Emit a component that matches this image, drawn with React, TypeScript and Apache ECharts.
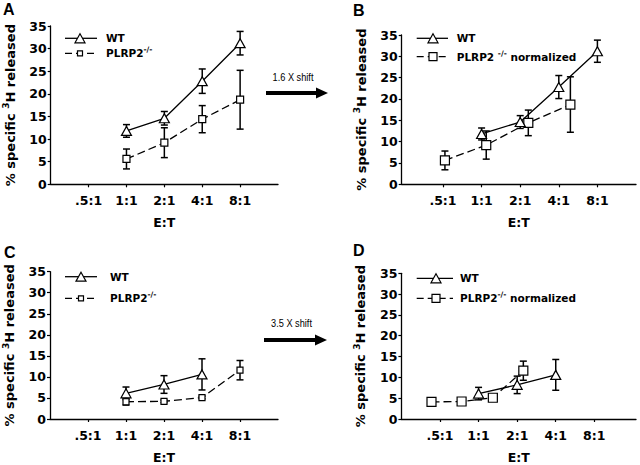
import React, { useEffect, useRef } from 'react';
import * as echarts from 'echarts';

// ---------- data ----------
const CATEGORIES = ['.5:1', '1:1', '2:1', '4:1', '8:1'];
const CAT_POS = [1, 2, 3, 4, 5];

// Panels A & B (same measurements, B has the PLRP2 curve shifted 1.6x)
const WT_POS_AB = [2, 3, 4, 5];
const WT_AB = [11.8, 14.6, 22.8, 31.2];
const WT_AB_ERR = [1.4, 1.5, 2.7, 2.6];
const KO_POS_A = [2, 3, 4, 5];
const KO_POS_B = [1.05, 2.12, 3.21, 4.3];
const KO_AB = [5.6, 9.2, 14.4, 18.7];
const KO_AB_ERR = [2.2, 3.3, 3.0, 6.5];

// Panels C & D (D has the PLRP2 curve shifted 3.5x)
const WT_POS_CD = [2, 3, 4];
const WT_CD = [6.1, 8.2, 10.6];
const WT_CD_ERR = [1.5, 2.1, 3.7];
const KO_POS_C = [2, 3, 4, 5];
const KO_POS_D = [0.78, 1.56, 2.37, 3.16];
const KO_CD = [4.1, 4.2, 5.1, 11.6];
const KO_CD_ERR = [0.8, 0.3, 0.3, 2.3];

const SHIFT_LABELS = ['1.6 X shift', '3.5 X shift'];
const PANEL_LETTERS = ['A', 'B', 'C', 'D'];

// ---------- layout / style ----------
const FONT = 'DejaVu Sans';
const GRIDS = [
  { left: 50.7, top: 26, width: 227.3, height: 158.3 },
  { left: 401.7, top: 35, width: 234.3, height: 149.3 },
  { left: 49.5, top: 271.7, width: 228.5, height: 152.6 },
  { left: 401.4, top: 273.3, width: 234.6, height: 151 },
];
const X_RANGES = [
  [0, 6],
  [-0.07, 6],
  [0, 6],
  [0, 6.08],
];

const PANELS = [
  { wtPos: WT_POS_AB, wt: WT_AB, wtErr: WT_AB_ERR, koPos: KO_POS_A, ko: KO_AB, koErr: KO_AB_ERR, koSize: 7 },
  { wtPos: WT_POS_AB, wt: WT_AB, wtErr: WT_AB_ERR, koPos: KO_POS_B, ko: KO_AB, koErr: KO_AB_ERR, koSize: 9 },
  { wtPos: WT_POS_CD, wt: WT_CD, wtErr: WT_CD_ERR, koPos: KO_POS_C, ko: KO_CD, koErr: KO_CD_ERR, koSize: 6 },
  { wtPos: WT_POS_CD, wt: WT_CD, wtErr: WT_CD_ERR, koPos: KO_POS_D, ko: KO_CD, koErr: KO_CD_ERR, koSize: 9 },
];

const BLACK = '#000';

function errorBarSeries(i: number, pos: number[], vals: number[], errs: number[]) {
  return {
    type: 'custom',
    xAxisIndex: i,
    yAxisIndex: i,
    silent: true,
    z: 1,
    encode: { x: 0, y: [1, 2] },
    data: pos.map((x, k) => [x, vals[k] - errs[k], vals[k] + errs[k]]),
    renderItem: (params: any, api: any) => {
      const x = api.value(0);
      const lo = api.coord([x, api.value(1)]);
      const hi = api.coord([x, api.value(2)]);
      const w = 3.5;
      const style = { stroke: BLACK, lineWidth: 1.5, fill: null };
      return {
        type: 'group',
        children: [
          { type: 'line', shape: { x1: lo[0], y1: lo[1], x2: hi[0], y2: hi[1] }, style },
          { type: 'line', shape: { x1: lo[0] - w, y1: lo[1], x2: lo[0] + w, y2: lo[1] }, style },
          { type: 'line', shape: { x1: hi[0] - w, y1: hi[1], x2: hi[0] + w, y2: hi[1] }, style },
        ],
      };
    },
  };
}

function lineSeries(i: number, name: string, pos: number[], vals: number[], symbol: string, size: any, dashed: boolean) {
  return {
    type: 'line',
    name,
    xAxisIndex: i,
    yAxisIndex: i,
    silent: true,
    z: 3,
    symbol,
    symbolSize: size,
    showAllSymbol: true,
    data: pos.map((x, k) => [x, vals[k]]),
    lineStyle: { color: BLACK, width: 1.3, type: dashed ? [8, 4] : 'solid' },
    itemStyle: { color: '#fff', borderColor: BLACK, borderWidth: 1.2 },
    emphasis: { disabled: true },
  };
}

const supRich = {
  sup: { fontFamily: FONT, fontWeight: 'bold', fontSize: 7.5, color: BLACK, verticalAlign: 'top', lineHeight: 15 },
  base: { fontFamily: FONT, fontWeight: 'bold', fontSize: 10.5, color: BLACK, lineHeight: 15 },
};

function legendGraphics(lx0: number, lx1: number, markerX: number, textX: number, y1: number, y2: number, koText: string, sqSize: number) {
  const els: any[] = [];
  els.push({ type: 'line', shape: { x1: lx0, y1, x2: lx1, y2: y1 }, style: { stroke: BLACK, lineWidth: 1.3 } });
  const t = 10;
  const th = 9;
  els.push({
    type: 'polygon',
    shape: { points: [[markerX, y1 - th / 2], [markerX + t / 2, y1 + th / 2], [markerX - t / 2, y1 + th / 2]] },
    style: { fill: '#fff', stroke: BLACK, lineWidth: 1.2 },
  });
  els.push({ type: 'line', shape: { x1: lx0, y1: y2, x2: lx1, y2 }, style: { stroke: BLACK, lineWidth: 1.3, lineDash: [7, 4] } });
  els.push({
    type: 'rect',
    shape: { x: markerX - sqSize / 2, y: y2 - sqSize / 2, width: sqSize, height: sqSize },
    style: { fill: '#fff', stroke: BLACK, lineWidth: 1.2 },
  });
  els.push({
    type: 'text', x: textX, y: y1,
    style: { text: 'WT', fontFamily: FONT, fontWeight: 'bold', fontSize: 10.5, fill: BLACK, verticalAlign: 'middle', align: 'left' },
  });
  els.push({
    type: 'text', x: textX, y: y2,
    style: { text: koText, rich: supRich, fontFamily: FONT, fontWeight: 'bold', fontSize: 10.5, fill: BLACK, verticalAlign: 'middle', align: 'left' },
  });
  return els;
}

function arrowGraphics(x0: number, x1: number, y: number, label: string, labelY: number) {
  return [
    { type: 'line', shape: { x1: x0, y1: y, x2: x1 - 8, y2: y }, style: { stroke: BLACK, lineWidth: 3.8 } },
    { type: 'polygon', shape: { points: [[x1 - 12, y - 5.5], [x1, y], [x1 - 12, y + 5.5]] }, style: { fill: BLACK } },
    {
      type: 'text', x: (x0 + x1) / 2 - 4, y: labelY, scaleX: 0.8,
      style: { text: label, fontFamily: '"Liberation Sans", Arial, sans-serif', fontSize: 11.5, fill: BLACK, align: 'center', verticalAlign: 'middle' },
    },
  ];
}

export default function App() {
  const ref = useRef<HTMLDivElement>(null);

  useEffect(() => {
    if (!ref.current) return;
    const chart = echarts.init(ref.current, null, { renderer: 'svg' });

    const axisLine = { show: true, onZero: false, lineStyle: { color: BLACK, width: 1.3 } };
    const tickFont = { fontFamily: FONT, fontWeight: 'bold', fontSize: 12.5, color: BLACK };

    const xAxis = GRIDS.map((_, i) => ({
      type: 'value',
      gridIndex: i,
      min: X_RANGES[i][0],
      max: X_RANGES[i][1],
      axisLine,
      splitLine: { show: false },
      axisTick: { show: true, length: 3, customValues: CAT_POS, lineStyle: { color: BLACK, width: 1.2 } },
      axisLabel: {
        ...tickFont,
        customValues: CAT_POS,
        margin: 10,
        formatter: (v: number) => {
          const k = CAT_POS.indexOf(Math.round(v * 100) / 100);
          return k >= 0 ? CATEGORIES[k] : '';
        },
      },
      name: 'E:T',
      nameLocation: 'middle',
      nameGap: 32,
      nameTextStyle: { fontFamily: FONT, fontWeight: 'bold', fontSize: 12.5, color: BLACK },
    }));

    const yAxis = GRIDS.map((_, i) => ({
      type: 'value',
      gridIndex: i,
      min: 0,
      max: 35,
      interval: 5,
      axisLine,
      splitLine: { show: false },
      axisTick: { show: true, length: 3, lineStyle: { color: BLACK, width: 1.2 } },
      axisLabel: { ...tickFont, margin: 4 },
      name: '% specific {sup|3}H released',
      nameLocation: 'middle',
      nameRotate: 90,
      nameGap: 32,
      nameTextStyle: {
        fontFamily: FONT, fontWeight: 'bold', fontSize: 13, color: BLACK, lineHeight: 17,
        rich: { sup: { fontFamily: FONT, fontWeight: 'bold', fontSize: 9, color: BLACK, verticalAlign: 'top', lineHeight: 17 } },
      },
    }));

    const series: any[] = [];
    PANELS.forEach((p, i) => {
      series.push(errorBarSeries(i, p.koPos, p.ko, p.koErr));
      series.push(errorBarSeries(i, p.wtPos, p.wt, p.wtErr));
      series.push(lineSeries(i, i % 2 === 0 ? 'PLRP2-/-' : 'PLRP2-/- normalized', p.koPos, p.ko, 'rect', p.koSize, true));
      series.push(lineSeries(i, 'WT', p.wtPos, p.wt, 'triangle', [10, 9], false));
    });

    const letterPos = [[3, 1], [353, 2], [4, 244], [353, 242]];
    const graphic: any[] = [];
    PANEL_LETTERS.forEach((l, i) => {
      graphic.push({
        type: 'text', x: letterPos[i][0], y: letterPos[i][1],
        style: { text: l, fontFamily: '"Liberation Sans", Arial, sans-serif', fontWeight: 'bold', fontSize: 16, fill: BLACK },
      });
    });
    graphic.push(...legendGraphics(65, 97, 80, 106, 38.3, 53.3, '{base|PLRP2}{sup|-/-}', 5));
    graphic.push(...legendGraphics(416.7, 448, 433, 456.7, 38.3, 56.7, '{base|PLRP2 }{sup|-/-}{base| normalized}', 8));
    graphic.push(...legendGraphics(65, 97, 81, 110, 276.7, 298.3, '{base|PLRP2}{sup|-/-}', 5));
    graphic.push(...legendGraphics(416.7, 453, 436, 460, 278.3, 298.3, '{base|PLRP2}{sup|-/-}{base| normalized}', 8));
    graphic.push(...arrowGraphics(266, 328, 93, SHIFT_LABELS[0], 77));
    graphic.push(...arrowGraphics(264, 327, 340, SHIFT_LABELS[1], 323));

    chart.setOption({
      animation: false,
      backgroundColor: '#fff',
      grid: GRIDS.map((g) => ({ ...g, containLabel: false })),
      xAxis,
      yAxis,
      series,
      graphic,
    });

    return () => chart.dispose();
  }, []);

  return <div ref={ref} style={{ position: 'fixed', left: 0, top: 0, width: 640, height: 465 }} />;
}
